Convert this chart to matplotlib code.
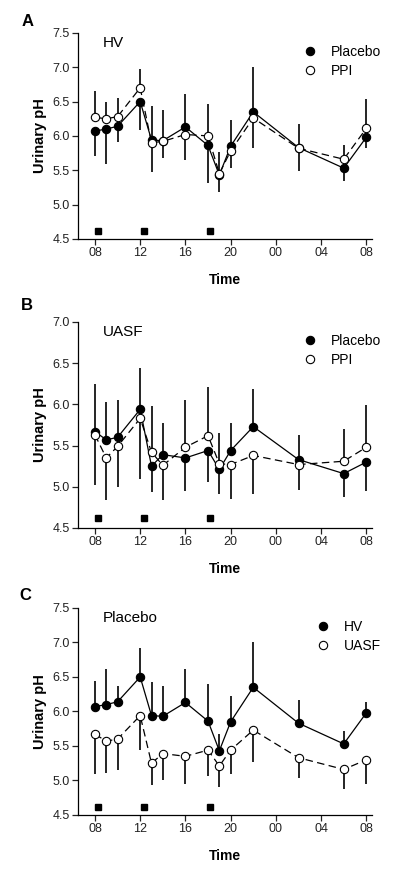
import numpy as np
import matplotlib.pyplot as plt

plt.rcParams['font.family'] = ['Liberation Sans', 'DejaVu Sans']

# sampling times, hours from midnight of day 1 (next day 02 -> 26 etc.)
hours = np.array([8, 9, 10, 12, 13, 14, 16, 18, 19, 20, 22, 26, 30, 32])
tick_hours = [8, 12, 16, 20, 24, 28, 32]
tick_labels = ['08', '12', '16', '20', '00', '04', '08']
meal_hours = [8.3, 12.3, 18.2]

# healthy volunteers (HV)
hv_placebo = np.array([6.07, 6.10, 6.14, 6.50, 5.94, 5.93, 6.13, 5.86, 5.43, 5.85, 6.35, 5.83, 5.53, 5.98])
hv_placebo_sd = np.array([0.37, 0.51, 0.23, 0.42, 0.49, 0.44, 0.48, 0.54, 0.25, 0.38, 0.65, 0.34, 0.19, 0.16])
hv_ppi = np.array([6.27, 6.25, 6.28, 6.70, 5.90, 5.92, 6.02, 6.00, 5.45, 5.78, 6.26, 5.82, 5.66, 6.11])
hv_ppi_sd = np.array([0.39, 0.25, 0.27, 0.27, 0.43, 0.24, 0.37, 0.46, 0.32, 0.25, 0.44, 0.33, 0.20, 0.42])

# uric acid stone formers (UASF)
uasf_placebo = np.array([5.67, 5.57, 5.60, 5.94, 5.25, 5.39, 5.35, 5.44, 5.21, 5.44, 5.73, 5.33, 5.16, 5.30])
uasf_placebo_sd = np.array([0.58, 0.46, 0.45, 0.50, 0.31, 0.39, 0.40, 0.38, 0.30, 0.34, 0.46, 0.30, 0.29, 0.35])
uasf_ppi = np.array([5.63, 5.35, 5.49, 5.83, 5.42, 5.26, 5.48, 5.62, 5.28, 5.27, 5.38, 5.27, 5.31, 5.48])
uasf_ppi_sd = np.array([0.61, 0.51, 0.49, 0.73, 0.56, 0.42, 0.57, 0.59, 0.37, 0.42, 0.47, 0.31, 0.39, 0.51])


def draw_panel(ax, a, sd_a, b, sd_b, labels, title, ylim):
    # one-sided bars: the higher series points up, the lower one down
    a_up = a >= b
    ax.errorbar(hours, a, yerr=[np.where(a_up, 0, sd_a), np.where(a_up, sd_a, 0)],
                fmt='none', ecolor='black', elinewidth=1.2, capsize=0, zorder=1)
    ax.errorbar(hours, b, yerr=[np.where(a_up, sd_b, 0), np.where(a_up, 0, sd_b)],
                fmt='none', ecolor='black', elinewidth=1.2, capsize=0, zorder=1)
    ax.plot(hours, a, '-', color='black', lw=0.9, zorder=2)
    ax.plot(hours, b, '--', color='black', lw=0.9, dashes=(6, 3.5), zorder=2)
    ha, = ax.plot(hours, a, 'o', ms=6, mfc='black', mec='black', mew=0.8, zorder=3, label=labels[0])
    hb, = ax.plot(hours, b, 'o', ms=6, mfc='white', mec='black', mew=0.8, zorder=4, label=labels[1])

    ax.plot(meal_hours, [4.62] * 3, 's', ms=4.5, color='black', zorder=3)

    ax.set_xlim(6.5, 32.5)
    ax.set_ylim(*ylim)
    ax.set_xticks(tick_hours)
    ax.set_xticklabels(tick_labels)
    yt = np.arange(ylim[0], ylim[1] + 0.01, 0.5)
    ax.set_yticks(yt)
    ax.set_yticklabels(['%.1f' % v for v in yt])
    ax.tick_params(direction='out', length=4, width=0.9, pad=2, labelsize=9, colors='#222222')
    for side in ['top', 'right']:
        ax.spines[side].set_visible(False)
    for side in ['left', 'bottom']:
        ax.spines[side].set_linewidth(0.9)

    ax.set_xlabel('Time', fontsize=10, fontweight='bold', labelpad=10)
    ax.set_ylabel('Urinary pH', fontsize=10.5, fontweight='bold', labelpad=4)
    ax.text(0.085, 0.95, title, transform=ax.transAxes, fontsize=11, va='center', ha='left')
    ax.legend(handles=[ha, hb], loc='upper right', bbox_to_anchor=(1.05, 0.97), frameon=False,
              fontsize=10, handlelength=1.0, handletextpad=1.0, labelspacing=0.4,
              borderaxespad=0)


fig = plt.figure(figsize=(4, 8.75), dpi=100)
axA = fig.add_axes([0.195, 0.727, 0.735, 0.2354])
axB = fig.add_axes([0.195, 0.3966, 0.735, 0.2354])
axC = fig.add_axes([0.195, 0.0686, 0.735, 0.2366])

draw_panel(axA, hv_placebo, hv_placebo_sd, hv_ppi, hv_ppi_sd, ['Placebo', 'PPI'], 'HV', (4.5, 7.5))
draw_panel(axB, uasf_placebo, uasf_placebo_sd, uasf_ppi, uasf_ppi_sd, ['Placebo', 'PPI'], 'UASF', (4.5, 7.0))
draw_panel(axC, hv_placebo, hv_placebo_sd, uasf_placebo, uasf_placebo_sd, ['HV', 'UASF'], 'Placebo', (4.5, 7.5))

fig.text(0.068, 0.975, 'A', fontsize=12, fontweight='bold', ha='center', va='center')
fig.text(0.068, 0.651, 'B', fontsize=12, fontweight='bold', ha='center', va='center')
fig.text(0.063, 0.320, 'C', fontsize=12, fontweight='bold', ha='center', va='center')

fig.savefig('out.png', dpi=100)
